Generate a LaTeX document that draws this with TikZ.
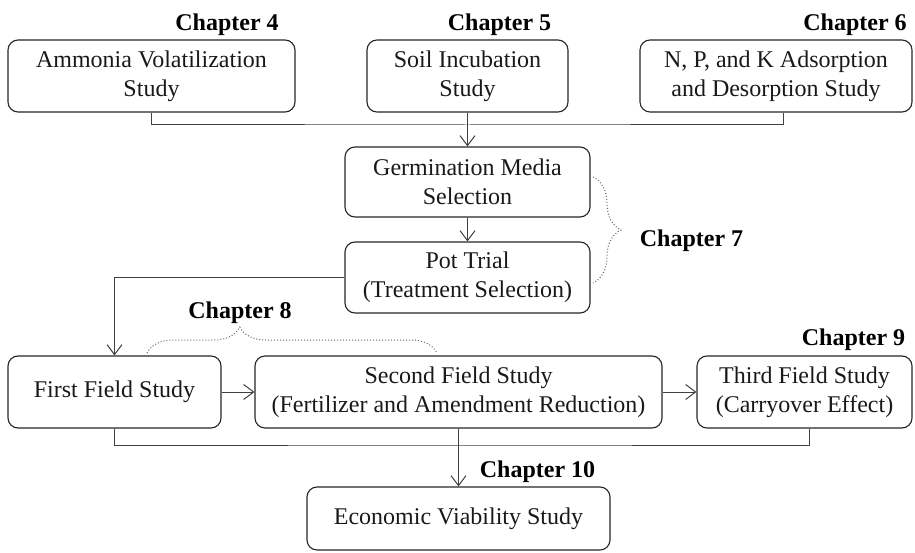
\documentclass[tikz,border=0pt]{standalone}
\usepackage{fontspec}
\setmainfont{Liberation Serif}
\usetikzlibrary{arrows.meta,decorations.pathreplacing}
\tikzset{
  stbox/.style={draw=black!85, line width=1.1pt, rounded corners=10pt, align=center,
    inner sep=0pt, font=\fontsize{24}{29}\selectfont, text=black!90},
  chap/.style={anchor=base, font=\fontsize{24}{28}\selectfont\bfseries, inner sep=0pt},
  conn/.style={draw=black!75, line width=1pt},
  arr/.style={conn, -{Straight Barb[length=10pt,width=15pt]}},
  br/.style={draw=black!60, line width=1pt, dotted, decorate}
}
\begin{document}
\begin{tikzpicture}[x=1pt,y=-1pt]
\useasboundingbox (0,0) rectangle (915,553);
% boxes
\node[stbox, minimum width=287pt, minimum height=72pt] (A) at (151.5,76) {Ammonia Volatilization\\Study};
\node[stbox, minimum width=201pt, minimum height=72pt] (B) at (467.5,76) {Soil Incubation\\Study};
\node[stbox, minimum width=272pt, minimum height=72pt] (C) at (776,76) {N, P, and K Adsorption\\and Desorption Study};
\node[stbox, minimum width=245pt, minimum height=70pt] (G) at (467.5,182) {Germination Media\\Selection};
\node[stbox, minimum width=245pt, minimum height=71pt] (P) at (467.5,277.5) {Pot Trial\\(Treatment Selection)};
\node[stbox, minimum width=213pt, minimum height=72pt] (F1) at (114.5,392) {First Field Study};
\node[stbox, minimum width=407pt, minimum height=72pt] (F2) at (458.5,392) {Second Field Study\\(Fertilizer and Amendment Reduction)};
\node[stbox, minimum width=215pt, minimum height=72pt] (F3) at (804.5,392) {Third Field Study\\(Carryover Effect)};
\node[stbox, minimum width=303pt, minimum height=63pt] (E) at (458.5,518.5) {Economic Viability Study};
% chapter labels
\node[chap] (c4) at (227,31) {Chapter 4};
\node[chap] (c5) at (499.5,31) {Chapter 5};
\node[chap] (c6) at (855,31) {Chapter 6};
\node[chap] (c7) at (691.5,247) {Chapter 7};
\node[chap] (c8) at (240,318) {Chapter 8};
\node[chap] (c9) at (853.5,345) {Chapter 9};
\node[chap] (c10) at (537.5,477) {Chapter 10};
% connectors
\coordinate (j1) at (467.5,125);
\coordinate (j2) at (458.5,445);
\draw[conn] (A.south) |- (j1) -| ([xshift=7pt]C.south);
\draw[arr] (B.south) -- (G.north);
\draw[arr] (G.south) -- (P.north);
\draw[arr] (P.west) -| (F1.north);
\draw[arr] (F1.east) -- (F2.west);
\draw[arr] (F2.east) -- (F3.west);
\draw[conn] (F1.south) |- (j2) -| ([xshift=4.5pt]F3.south);
\draw[arr] (F2.south) -- (E.north);
% braces
\coordinate (b7a) at (593,177);
\coordinate (b7b) at (593,283);
\draw[br, decoration={brace, amplitude=28pt}] (b7a) -- (b7b);
\coordinate (b8a) at (147,353);
\coordinate (b8b) at (437,353);
\draw[br, decoration={brace, amplitude=26pt, aspect=0.32}] (b8a) -- (b8b);
\end{tikzpicture}
\end{document}
